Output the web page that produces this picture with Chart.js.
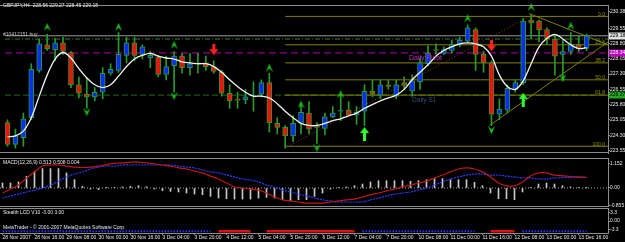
<!DOCTYPE html>
<html>
<head>
<meta charset="utf-8">
<script src="https://cdn.jsdelivr.net/npm/chart.js@4.4.1/dist/chart.umd.min.js"></script>
<style>
  html, body { margin: 0; padding: 0; background: #000; }
  #wrap { position: relative; width: 625px; height: 242px; background: #000; overflow: hidden; }
  #wrap canvas { position: absolute; left: 0; display: block; }
</style>
</head>
<body>
<div id="wrap">
  <canvas id="mainChart" width="625" height="158" style="top:0px"></canvas>
  <canvas id="macdChart" width="625" height="49" style="top:158px"></canvas>
  <canvas id="stealthChart" width="625" height="35" style="top:207px"></canvas>
</div>
<script>
/**
 *  ! Data (GBPJPY H4, 28 Nov - 13 Dec 2007)
 * **/
const opens = [224.92, 223.85, 224.18, 225.16, 227.48, 228.74, 228.50, 228.83, 228.36, 226.78,
  226.32, 226.18, 226.41, 227.34, 227.48, 228.22, 228.83, 228.27, 228.09, 228.13,
  227.29, 227.71, 228.18, 227.62, 227.81, 227.85, 227.67, 227.39, 226.36, 226.04,
  226.04, 226.22, 226.32, 226.88, 224.88, 224.69, 224.27, 224.88, 225.39, 224.74,
  224.64, 225.20, 225.48, 225.53, 225.29, 225.48, 226.46, 226.27, 226.78, 226.22,
  226.88, 226.46, 226.92, 227.81, 228.50, 228.32, 228.46, 228.74, 228.92, 229.48,
  228.27, 227.85, 225.34, 225.53, 226.55, 226.88, 229.95, 229.90, 229.48, 229.02,
  228.27, 228.41, 228.74, 228.56];
const highs = [225.06, 224.60, 225.39, 227.81, 229.02, 229.25, 229.06, 229.11, 228.41, 227.16,
  227.11, 226.64, 227.62, 227.81, 229.34, 229.11, 229.11, 228.74, 228.41, 228.22,
  228.18, 228.41, 228.32, 228.32, 228.32, 228.18, 227.95, 227.48, 226.78, 226.41,
  226.55, 226.92, 227.02, 227.34, 225.16, 224.78, 225.25, 225.85, 225.95, 224.92,
  225.39, 225.71, 226.32, 225.95, 225.71, 226.78, 227.02, 227.02, 227.02, 227.02,
  227.16, 227.25, 228.09, 228.69, 228.78, 228.64, 228.97, 229.11, 229.71, 229.57,
  228.41, 227.95, 226.09, 226.78, 227.02, 230.04, 230.18, 229.95, 229.57, 229.20,
  229.02, 229.34, 229.20, 229.27];
const lows = [223.76, 223.67, 223.76, 225.06, 227.39, 228.46, 227.95, 228.27, 226.64, 226.13,
  225.62, 225.99, 226.09, 227.25, 227.39, 227.85, 227.95, 228.04, 227.62, 227.16,
  227.02, 226.41, 227.34, 227.25, 227.34, 227.48, 227.34, 226.22, 225.62, 225.62,
  225.85, 225.48, 226.18, 224.46, 224.36, 223.67, 223.99, 224.36, 224.36, 223.90,
  224.32, 225.16, 225.02, 225.25, 224.83, 224.78, 226.18, 226.09, 226.55, 226.09,
  226.55, 226.22, 226.55, 227.71, 228.27, 228.27, 228.32, 228.64, 228.83, 227.48,
  227.39, 224.78, 225.06, 225.39, 226.41, 226.78, 229.02, 228.88, 228.74, 227.25,
  227.02, 228.27, 228.41, 228.45];
const closes = [223.85, 224.27, 225.11, 227.53, 228.78, 228.55, 228.83, 228.41, 226.78, 226.36,
  226.18, 226.41, 227.34, 227.53, 228.27, 228.83, 228.22, 228.64, 228.22, 227.29,
  227.67, 228.18, 227.62, 227.81, 227.85, 227.67, 227.43, 226.36, 225.99, 226.02,
  226.18, 226.27, 226.88, 224.92, 224.69, 224.27, 224.88, 225.43, 224.60, 224.69,
  225.20, 225.39, 225.50, 225.29, 225.43, 226.46, 226.32, 226.78, 226.69, 226.78,
  226.74, 226.97, 227.85, 228.32, 228.46, 228.50, 228.74, 228.97, 229.57, 228.27,
  227.85, 225.34, 225.57, 226.60, 226.88, 229.90, 229.81, 229.48, 229.02, 228.18,
  228.41, 228.74, 228.55, 229.18];
// white moving average
const maLine = [224.22, 224.27, 224.50, 225.16, 226.22, 227.25, 228.04, 228.36, 228.09, 227.57,
  227.11, 226.78, 226.64, 226.78, 227.20, 227.67, 228.04, 228.22, 228.32, 228.18,
  228.09, 228.04, 227.90, 227.85, 227.81, 227.81, 227.67, 227.39, 227.02, 226.69,
  226.41, 226.22, 226.22, 226.13, 225.85, 225.48, 225.16, 224.88, 224.78, 224.78,
  224.88, 225.02, 225.11, 225.25, 225.39, 225.62, 225.81, 225.99, 226.13, 226.27,
  226.55, 227.02, 227.39, 227.76, 228.18, 228.46, 228.64, 228.78, 228.83, 228.78,
  228.64, 228.18, 227.25, 226.69, 226.55, 226.97, 227.81, 228.64, 229.06, 229.25,
  229.02, 228.74, 228.55, 228.60];

const priceTicks = [230.38, 229.55, 228.80, 228.05, 227.30, 226.55, 225.80, 225.05, 224.30, 223.55];
const fibLevels = [230.13, 228.74, 227.85, 227.02, 226.27, 223.76];
const fibNames = ["0.0", "23.6", "38.2", "50.0", "61.8", "100.0"];
const fibStart = 35;
const bidPrice = 229.18;
const orderPrice = 229.02;
const pivotPrice = 228.34;
const s1Price = 226.27;
const fibTrend = [{ x: 35, y: 223.67 }, { x: 66, y: 230.18 }];
const channelUpper = [{ x: 65.75, y: 230.27 }, { x: 75.69, y: 228.74 }];
const channelLower = [{ x: 60.75, y: 224.78 }, { x: 75.69, y: 228.88 }];

const fractalUpIdx = [5, 14, 21, 33, 37, 42, 58, 66, 71];
const fractalUpPrice = [229.62, 229.62, 228.74, 227.62, 225.81, 226.32, 230.04, 230.60, 229.67];
const fractalDownIdx = [10, 21, 39, 61, 70];
const fractalDownPrice = [225.43, 226.22, 223.67, 224.55, 227.10];
const buyArrowIdx = [45, 65];
const buyArrowPrice = [224.36, 226.04];
const sellArrowIdx = [26, 61];
const sellArrowPrice = [228.50, 228.69];

// MACD(12,26,9)
const macdHist = [0.24, 0.24, 0.29, 0.56, 0.80, 0.93, 0.93, 0.93, 0.72, 0.40,
  0.08, -0.05, -0.08, 0.01, 0.03, 0.05, 0.08, 0.11, 0.06, -0.05,
  -0.13, -0.16, -0.19, -0.24, -0.29, -0.32, -0.40, -0.48, -0.51, -0.53,
  -0.53, -0.53, -0.48, -0.45, -0.48, -0.56, -0.61, -0.56, -0.56, -0.40,
  -0.24, -0.05, 0.03, 0.05, 0.11, 0.19, 0.29, 0.35, 0.35, 0.35,
  0.35, 0.32, 0.35, 0.40, 0.45, 0.45, 0.40, 0.40, 0.40, 0.27,
  0.11, -0.24, -0.51, -0.51, -0.56, -0.19, 0.03, 0.19, 0.24, 0.19,
  0.11, 0.05, 0.03, 0.004];
const macdMain = [-0.24, -0.05, 0.14, 0.48, 0.77, 1.05, 1.10, 1.10, 1.05, 1.00,
  0.98, 1.00, 1.05, 1.12, 1.18, 1.20, 1.24, 1.24, 1.20, 1.15,
  1.10, 1.05, 0.96, 0.91, 0.81, 0.72, 0.57, 0.43, 0.24, 0.05,
  0.00, -0.05, -0.10, -0.24, -0.43, -0.57, -0.62, -0.67, -0.72, -0.72,
  -0.72, -0.67, -0.62, -0.57, -0.53, -0.43, -0.33, -0.24, -0.14, -0.05,
  0.05, 0.14, 0.24, 0.33, 0.48, 0.62, 0.77, 0.91, 0.96, 0.91,
  0.77, 0.53, 0.24, 0.10, 0.10, 0.29, 0.57, 0.72, 0.72, 0.62,
  0.58, 0.55, 0.53, 0.513];
const macdSignal = [-0.48, -0.38, -0.29, -0.19, -0.10, 0.00, 0.14, 0.33, 0.53, 0.67,
  0.77, 0.91, 1.00, 1.05, 1.05, 1.10, 1.10, 1.10, 1.10, 1.10,
  1.10, 1.10, 1.05, 1.00, 0.96, 0.86, 0.77, 0.72, 0.62, 0.53,
  0.43, 0.38, 0.29, 0.14, 0.05, -0.10, -0.19, -0.29, -0.38, -0.48,
  -0.57, -0.62, -0.67, -0.67, -0.67, -0.67, -0.57, -0.48, -0.38, -0.29,
  -0.24, -0.19, -0.10, 0.00, 0.14, 0.29, 0.43, 0.53, 0.62, 0.67,
  0.67, 0.62, 0.62, 0.57, 0.53, 0.48, 0.48, 0.43, 0.43, 0.48,
  0.50, 0.50, 0.51, 0.508];
const macdTicks = [1.152, 0, -0.855];
const macdTickLabels = ["1.152", "0.00", "-0.855"];

// Stealth LCD: 1 = blue, -1 = red, 0 = nothing
const stealthState = [1, 1, 1, 1, 1, 1, 1, 1, 1, 1,
  1, 1, 1, 1, 1, 1, 1, 1, 1, 1,
  1, 1, 1, 1, 1, 1, 1, -1, -1, -1,
  -1, -1, 0, -1, -1, -1, -1, -1, -1, -1,
  -1, -1, -1, -1, -1, 1, 1, 1, 1, 1,
  1, 1, 1, 1, 1, 1, 1, 1, 1, 1,
  0, -1, -1, -1, -1, 1, 1, 1, 1, 1,
  1, 1, 1, 1];
const stealthValue = -3.95;
const stealthTicks = [3.3, 0, -3.3];
const stealthTickLabels = ["3.3", "0.00", "-3.3"];

const timeLabelIdx = [0, 4, 8, 12, 16, 20, 24, 28, 32, 36, 40, 44, 48, 52, 56, 60, 64, 68, 72];
const timeLabels = ["28 Nov 2007", "28 Nov 16:00", "29 Nov 08:00", "30 Nov 00:00", "30 Nov 16:00",
  "3 Dec 04:00", "3 Dec 20:00", "4 Dec 12:00", "5 Dec 04:00", "5 Dec 20:00", "6 Dec 12:00",
  "7 Dec 04:00", "7 Dec 20:00", "10 Dec 08:00", "11 Dec 00:00", "11 Dec 16:00",
  "12 Dec 08:00", "13 Dec 00:00", "13 Dec 16:00"];

/**
 *  ! Shared settings
 * **/
const X_MIN = -0.3125;
const X_MAX = 75.6875;
const FONT = "'Liberation Sans', Arial, sans-serif";
const FS = 5;
const GRAY = "#8c8c8c";
const TEXT = "#e6e6e6";
const CANDLE_GREEN = "#2a9a2a";

const fixYAxis = (s) => { s.width = 17; s.paddingTop = 0; s.paddingBottom = 0; };

function rightAxis(min, max, ticks, labels) {
  return {
    position: "right",
    min: min,
    max: max,
    afterBuildTicks: (s) => { s.ticks = ticks.map((v) => ({ value: v })); },
    afterFit: fixYAxis,
    ticks: {
      color: TEXT,
      font: { family: FONT, size: FS },
      padding: 0,
      autoSkip: false,
      callback: (v, k) => labels[k],
    },
    grid: { drawOnChartArea: false, tickLength: 2, color: GRAY },
    border: { color: GRAY },
  };
}

const hiddenX = { type: "linear", min: X_MIN, max: X_MAX, offset: false, display: false, grid: { offset: false } };

const baseOptions = {
  responsive: false,
  maintainAspectRatio: false,
  devicePixelRatio: 1,
  animation: false,
  events: [],
  plugins: { legend: { display: false }, tooltip: { enabled: false } },
};

function txt(ctx, s, x, y, color, size, align, base) {
  ctx.save();
  ctx.font = size + "px " + FONT;
  ctx.fillStyle = color;
  ctx.textAlign = align || "left";
  ctx.textBaseline = base || "middle";
  ctx.fillText(s, x, y);
  ctx.restore();
}

function hRule(ctx, y, x0, x1, color) {
  ctx.save();
  ctx.strokeStyle = color;
  ctx.lineWidth = 1;
  ctx.beginPath();
  ctx.moveTo(x0, y);
  ctx.lineTo(x1, y);
  ctx.stroke();
  ctx.restore();
}

function marker(w, h, color, draw) {
  const c = document.createElement("canvas");
  c.width = w;
  c.height = h;
  const g = c.getContext("2d");
  g.fillStyle = color;
  g.beginPath();
  draw(g);
  g.closePath();
  g.fill();
  return c;
}

const upTick = marker(7, 8, "#1cb81c", (g) => { g.moveTo(0, 8); g.lineTo(3.5, 0); g.lineTo(7, 8); g.lineTo(3.5, 5); });
const downTick = marker(7, 8, "#1cb81c", (g) => { g.moveTo(0, 0); g.lineTo(3.5, 8); g.lineTo(7, 0); g.lineTo(3.5, 3); });
const buyArrow = marker(9, 14, "#30ff30", (g) => {
  g.moveTo(4.5, 0); g.lineTo(9, 6); g.lineTo(6, 6); g.lineTo(6, 14);
  g.lineTo(3, 14); g.lineTo(3, 6); g.lineTo(0, 6);
});
const sellArrow = marker(9, 11, "#ff2020", (g) => {
  g.moveTo(3, 0); g.lineTo(6, 0); g.lineTo(6, 5); g.lineTo(9, 5);
  g.lineTo(4.5, 11); g.lineTo(0, 5); g.lineTo(3, 5);
});

const pts = (idx, vals) => idx.map((i, k) => ({ x: i, y: vals[k] }));
const fullLine = (v) => [{ x: X_MIN, y: v }, { x: X_MAX, y: v }];
const lineSet = (data, color, dash, order) => ({
  type: "line", data: data, borderColor: color, borderWidth: 1,
  borderDash: dash || [], pointRadius: 0, order: order,
});
const markerSet = (data, img) => ({
  type: "line", data: data, showLine: false, pointStyle: img,
  pointRadius: 4, order: 0, clip: false,
});

/**
 *  ! Price chart
 * **/
const idx = closes.map((_, i) => i);
const bodyData = idx.map((i) => ({ x: i, y: [Math.min(opens[i], closes[i]), Math.max(opens[i], closes[i])] }));
const wickData = idx.map((i) => ({ x: i, y: [lows[i], highs[i]] }));
const bodyColors = idx.map((i) => (closes[i] >= opens[i] ? "#0a2cff" : "#f01010"));

const mainOverlay = {
  id: "mainOverlay",
  afterDraw(chart) {
    const { ctx, chartArea: a, scales: { x, y } } = chart;
    hRule(ctx, a.top + 0.5, 0, a.right, GRAY);
    hRule(ctx, a.bottom - 0.5, 0, a.right, GRAY);
    txt(ctx, "GBPJPY,H4  228.56 229.27 228.45 229.18", 3, 6, TEXT, FS);
    txt(ctx, "#10412151 buy", 3, y.getPixelForValue(orderPrice) - 1.5, "#c8c8c8", FS, "left", "bottom");
    txt(ctx, "Daily Pivot", x.getPixelForValue(50.6), y.getPixelForValue(pivotPrice) + 1.5, "#c030c0", 7, "left", "top");
    txt(ctx, "Daily S1", x.getPixelForValue(51), y.getPixelForValue(s1Price) + 1.5, "#33507a", 6.5, "left", "top");
    fibLevels.forEach((v, k) => {
      txt(ctx, fibNames[k], a.right - 3, y.getPixelForValue(v) + 0.5, "#959500", FS, "right", "bottom");
    });
    [[bidPrice, "#e0e0e0", "#000000"], [pivotPrice, "#c000c0", "#ffffff"], [s1Price, "#20a820", "#000000"]].forEach(([v, bg, fg]) => {
      const py = y.getPixelForValue(v);
      ctx.fillStyle = bg;
      ctx.fillRect(a.right + 1, Math.round(py) - 3.5, 16, 7);
      txt(ctx, v.toFixed(2), a.right + 2, py, fg, FS);
    });
  },
};

const fibSets = fibLevels.map((v) => lineSet([{ x: fibStart, y: v }, { x: X_MAX, y: v }], "#808000", [], 5));

new Chart(document.getElementById("mainChart"), {
  type: "bar",
  data: {
    datasets: [
      markerSet(pts(fractalUpIdx, fractalUpPrice), upTick),
      markerSet(pts(fractalDownIdx, fractalDownPrice), downTick),
      markerSet(pts(buyArrowIdx, buyArrowPrice), buyArrow),
      markerSet(pts(sellArrowIdx, sellArrowPrice), sellArrow),
      {
        type: "line",
        data: idx.map((i) => ({ x: i, y: maLine[i] })),
        borderColor: "#f2f2f2",
        borderWidth: 1.3,
        pointRadius: 0,
        tension: 0.35,
        order: 1,
      },
      {
        data: bodyData,
        backgroundColor: bodyColors,
        borderColor: CANDLE_GREEN,
        borderWidth: 1,
        borderSkipped: false,
        barThickness: 5,
        minBarLength: 1,
        grouped: false,
        order: 2,
      },
      {
        data: wickData,
        backgroundColor: CANDLE_GREEN,
        borderWidth: 0,
        barThickness: 1,
        grouped: false,
        order: 3,
      },
      lineSet(fibTrend, "#9a4020", [1, 2], 4),
      lineSet(channelUpper, "#808000", [], 4),
      lineSet(channelLower, "#808000", [], 4),
      ...fibSets,
      lineSet(fullLine(bidPrice), "#9a9a9a", [], 6),
      lineSet(fullLine(orderPrice), "#2f7f2f", [5, 2, 1, 2], 6),
      lineSet(fullLine(pivotPrice), "#b000b0", [7, 4], 6),
      lineSet(fullLine(s1Price), "#1e6e1e", [6, 3], 6),
    ],
  },
  options: {
    ...baseOptions,
    layout: { padding: { top: 1, bottom: 1, left: 0, right: 0 } },
    scales: {
      x: hiddenX,
      y: rightAxis(223.43, 230.69, priceTicks, priceTicks.map((v) => v.toFixed(2))),
    },
  },
  plugins: [mainOverlay],
});

/**
 *  ! MACD chart
 * **/
const macdOverlay = {
  id: "macdOverlay",
  afterDraw(chart) {
    const { ctx, chartArea: a } = chart;
    hRule(ctx, a.top + 0.5, 0, a.right, GRAY);
    hRule(ctx, a.bottom - 0.5, 0, a.right, GRAY);
    txt(ctx, "MACD(12,26,9) 0.513 0.508 0.004", 3, a.top + 4.5, TEXT, FS);
  },
};

new Chart(document.getElementById("macdChart"), {
  type: "bar",
  data: {
    datasets: [
      {
        type: "line",
        data: idx.map((i) => ({ x: i, y: macdMain[i] })),
        borderColor: "#c01818",
        borderWidth: 1.2,
        pointRadius: 0,
        tension: 0.3,
        order: 0,
      },
      {
        type: "line",
        data: idx.map((i) => ({ x: i, y: macdSignal[i] })),
        borderColor: "#2a3cff",
        borderWidth: 1.2,
        borderDash: [2, 1],
        pointRadius: 0,
        tension: 0.3,
        order: 1,
      },
      {
        data: idx.map((i) => ({ x: i, y: macdHist[i] })),
        backgroundColor: "#c8c8c8",
        barThickness: 1,
        grouped: false,
        order: 2,
      },
      lineSet(fullLine(0), "#a0a0a0", [1, 2], 3),
    ],
  },
  options: {
    ...baseOptions,
    layout: { padding: 0 },
    scales: {
      x: hiddenX,
      y: rightAxis(-0.909, 1.435, macdTicks, macdTickLabels),
    },
  },
  plugins: [macdOverlay],
});

/**
 *  ! Stealth LCD chart + time axis
 * **/
const stealthOverlay = {
  id: "stealthOverlay",
  afterDraw(chart) {
    const { ctx, chartArea: a } = chart;
    hRule(ctx, a.top + 0.5, 0, a.right, GRAY);
    txt(ctx, "Stealth LCD V10 -3.00 3.00", 3, a.top + 5, TEXT, FS);
    txt(ctx, "MetaTrader - \u00a9 2001-2007 MetaQuotes Software Corp.", 3, a.top + 19.5, TEXT, FS);
  },
};

new Chart(document.getElementById("stealthChart"), {
  type: "line",
  data: {
    datasets: [
      {
        data: idx.map((i) => ({ x: i, y: stealthState[i] === -1 ? stealthValue : null })),
        borderColor: "#e01010",
        borderWidth: 2.5,
        pointRadius: 0,
        spanGaps: false,
      },
      {
        data: idx.map((i) => ({ x: i, y: stealthState[i] === 1 ? stealthValue : null })),
        borderColor: "#2030ff",
        borderWidth: 2,
        borderDash: [1.5, 1.5],
        pointRadius: 0,
        spanGaps: false,
      },
    ],
  },
  options: {
    ...baseOptions,
    layout: { padding: { top: 1, bottom: 0, left: 0, right: 0 } },
    scales: {
      x: {
        type: "linear",
        min: X_MIN,
        max: X_MAX,
        offset: false,
        position: "bottom",
        afterBuildTicks: (s) => { s.ticks = timeLabelIdx.map((v) => ({ value: v })); },
        afterFit: (s) => { s.height = 9; s.paddingLeft = 0; s.paddingRight = 0; },
        ticks: {
          color: TEXT,
          font: { family: FONT, size: FS },
          padding: 0,
          align: "start",
          maxRotation: 0,
          minRotation: 0,
          autoSkip: false,
          callback: (v, k) => timeLabels[k],
        },
        grid: { drawOnChartArea: false, tickLength: 2, color: GRAY, offset: false },
        border: { color: GRAY },
      },
      y: rightAxis(-4.65, 5.04, stealthTicks, stealthTickLabels),
    },
  },
  plugins: [stealthOverlay],
});
</script>
</body>
</html>
